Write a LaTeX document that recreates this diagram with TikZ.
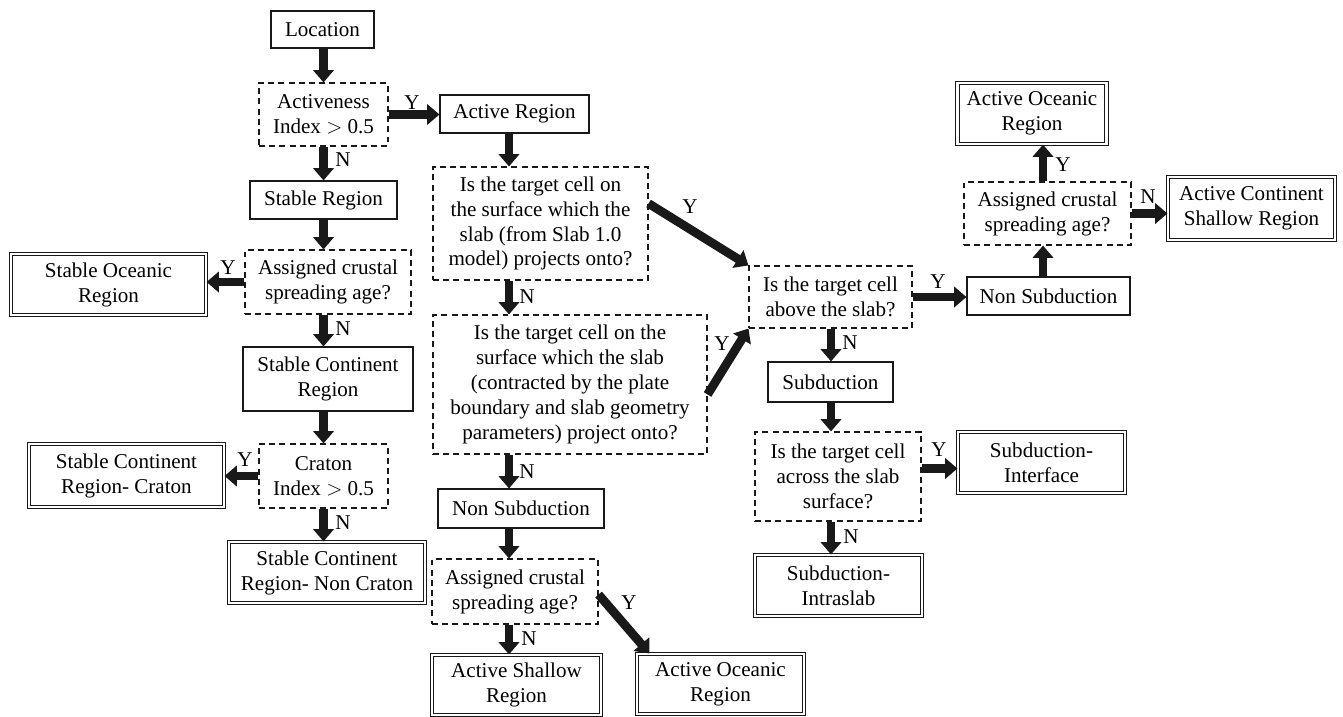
\documentclass[tikz,border=0pt]{standalone}
\usepackage{fontspec}
\setmainfont{Liberation Serif}
\usetikzlibrary{arrows.meta,calc}
\tikzset{
  base/.style={draw=black!90, line width=0.65pt, align=center, font=\fontsize{12}{14.2}\selectfont, inner sep=0pt},
  solidbox/.style={base},
  dashbox/.style={base, dash pattern=on 3.4pt off 2.4pt},
  dblbox/.style={base, double, double distance=1.2pt},
  arr/.style={draw=black!90, line width=5pt, -{Triangle[width=11.5pt,length=7pt]}},
  lbl/.style={font=\fontsize{12}{14.2}\selectfont, inner sep=0pt},
}
\begin{document}
\begin{tikzpicture}[x=0.02cm,y=-0.02cm]
\path[use as bounding box] (0,0) rectangle (1343,717);
% column guides
\coordinate (colL) at (323.5,0);
\coordinate (colM) at (509,0);
\coordinate (colR) at (831,0);
\coordinate (colRR) at (1043,0);
% left column
\node[solidbox, minimum width=2.06cm, minimum height=0.74cm] (loc) at (322.5,29.5) {Location};
\node[dashbox, minimum width=2.58cm, minimum height=1.26cm] (act) at (323.5,114.5) {Activeness\\Index $>$ 0.5};
\node[solidbox, minimum width=2.94cm, minimum height=0.76cm] (stable) at (323.5,200) {Stable Region};
\node[dashbox, minimum width=3.32cm, minimum height=1.28cm] (asL) at (328,282) {Assigned crustal\\spreading age?};
\node[dblbox, minimum width=3.90cm, minimum height=1.22cm] (sor) at (108.5,284.5) {Stable Oceanic\\Region};
\node[solidbox, minimum width=3.40cm, minimum height=1.28cm] (scr) at (328,379) {Stable Continent\\Region};
\node[dashbox, minimum width=2.58cm, minimum height=1.28cm] (crat) at (323.5,476) {Craton\\Index $>$ 0.5};
\node[dblbox, minimum width=3.90cm, minimum height=1.26cm] (scrc) at (126.5,475.5) {Stable Continent\\Region- Craton};
\node[dblbox, minimum width=3.92cm, minimum height=1.22cm] (scrn) at (327,572.5) {Stable Continent\\Region- Non Craton};
% middle column
\node[solidbox, minimum width=2.98cm, minimum height=0.76cm] (ar) at (514.5,114) {Active Region};
\node[dashbox, minimum width=4.30cm, minimum height=2.26cm] (q1) at (540.5,223.5) {Is the target cell on\\the surface which the\\slab (from Slab 1.0\\model) projects onto?};
\node[dashbox, minimum width=5.48cm, minimum height=2.78cm] (q2) at (570,384.5) {Is the target cell on the\\surface which the slab\\(contracted by the plate\\boundary and slab geometry\\parameters) project onto?};
\node[solidbox, minimum width=3.32cm, minimum height=0.78cm] (nsM) at (521,508.5) {Non Subduction};
\node[dashbox, minimum width=3.32cm, minimum height=1.30cm] (asM) at (515,591.5) {Assigned crustal\\spreading age?};
\node[dblbox, minimum width=3.38cm, minimum height=1.20cm] (asr) at (516.5,685) {Active Shallow\\Region};
\node[dblbox, minimum width=3.34cm, minimum height=1.20cm] (aor2) at (720.5,684) {Active Oceanic\\Region};
% right column
\node[dashbox, minimum width=3.26cm, minimum height=1.24cm] (q3) at (830.5,297) {Is the target cell\\above the slab?};
\node[solidbox, minimum width=2.50cm, minimum height=0.80cm] (sub) at (830.5,382) {Subduction};
\node[dashbox, minimum width=3.32cm, minimum height=1.78cm] (q4) at (838,476.5) {Is the target cell\\across the slab\\surface?};
\node[dblbox, minimum width=3.34cm, minimum height=1.22cm] (si) at (1041.5,462.5) {Subduction-\\Interface};
\node[dblbox, minimum width=3.34cm, minimum height=1.22cm] (sis) at (838.5,585.5) {Subduction-\\Intraslab};
\node[solidbox, minimum width=3.26cm, minimum height=0.76cm] (nsR) at (1048.5,296) {Non Subduction};
\node[dashbox, minimum width=3.34cm, minimum height=1.26cm] (asR) at (1047.5,213.5) {Assigned crustal\\spreading age?};
\node[dblbox, minimum width=2.98cm, minimum height=1.22cm] (aor1) at (1032,113.5) {Active Oceanic\\Region};
\node[dblbox, minimum width=3.34cm, minimum height=1.26cm] (acs) at (1251.5,208.5) {Active Continent\\Shallow Region};
% arrows left column
\draw[arr] (loc.south -| colL) -- (act.north -| colL);
\draw[arr] (act.east) -- (act.east -| ar.west);
\draw[arr] (act.south -| colL) -- (stable.north -| colL);
\draw[arr] (stable.south -| colL) -- (asL.north -| colL);
\draw[arr] (asL.west) -- (asL.west -| sor.east);
\draw[arr] (asL.south -| colL) -- (scr.north -| colL);
\draw[arr] (scr.south -| colL) -- (crat.north -| colL);
\draw[arr] (crat.west) -- (crat.west -| scrc.east);
\draw[arr] (crat.south -| colL) -- (scrn.north -| colL);
% arrows middle column
\draw[arr] (ar.south -| colM) -- (q1.north -| colM);
\draw[arr] (q1.south -| colM) -- (q2.north -| colM);
\draw[arr] (q2.south -| colM) -- (nsM.north -| colM);
\draw[arr] (nsM.south -| colM) -- (asM.north -| colM);
\draw[arr] (asM.south -| colM) -- (asr.north -| colM);
\draw[arr] ($(q1.east)+(0,-20)$) -- (q3.north west);
\draw[arr] ($(q2.east)+(0,10)$) -- (q3.south west);
\draw[arr] ($(asM.east)+(0,3)$) -- ($(aor2.north west)+(13,0)$);
% arrows right column
\draw[arr] (q3.east) -- (q3.east -| nsR.west);
\draw[arr] (nsR.north -| colRR) -- (asR.south -| colRR);
\draw[arr] (asR.north -| colRR) -- (aor1.south -| colRR);
\draw[arr] (asR.east) -- (asR.east -| acs.west);
\draw[arr] (q3.south -| colR) -- (sub.north -| colR);
\draw[arr] (sub.south -| colR) -- (q4.north -| colR);
\draw[arr] (q4.south -| colR) -- (sis.north -| colR);
\coordinate (q4y) at ($(q4.east)+(0,-8)$);
\draw[arr] (q4y) -- (q4y -| si.west);
% labels
\node[lbl] (l1) at (412,103) {Y};
\node[lbl] (l2) at (343,160) {N};
\node[lbl] (l3) at (228,268) {Y};
\node[lbl] (l4) at (343,329) {N};
\node[lbl] (l5) at (245,460) {Y};
\node[lbl] (l6) at (343,523) {N};
\node[lbl] (l7) at (690,207) {Y};
\node[lbl] (l8) at (527,297) {N};
\node[lbl] (l9) at (722,344) {Y};
\node[lbl] (l10) at (527,472) {N};
\node[lbl] (l11) at (629,603) {Y};
\node[lbl] (l12) at (529,639) {N};
\node[lbl] (l13) at (938,282) {Y};
\node[lbl] (l14) at (850,343) {N};
\node[lbl] (l15) at (939,450) {Y};
\node[lbl] (l16) at (851,537) {N};
\node[lbl] (l17) at (1063,165) {Y};
\node[lbl] (l18) at (1148,197) {N};
\end{tikzpicture}
\end{document}
